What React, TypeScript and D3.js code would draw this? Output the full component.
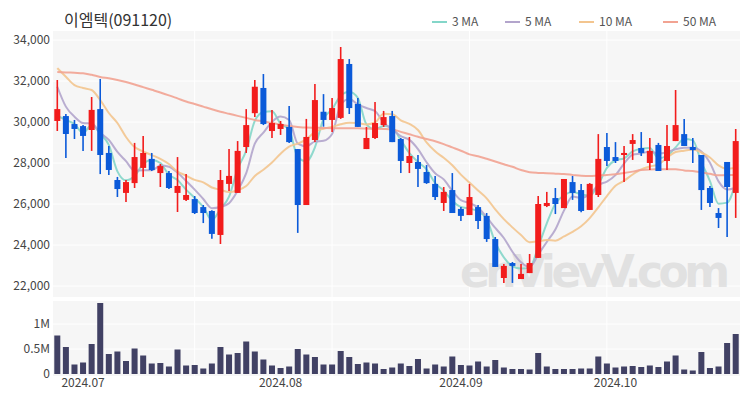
import React from 'react';
import * as d3 from 'd3';

const title = '이엠텍(091120)';

const opens = [30050, 30290, 29900, 29800, 29610, 30630, 28490, 27170, 26540, 27020, 27760, 28200, 27510, 27510, 26540, 26200, 26240, 25850, 25660, 24490, 26980, 26540, 28780, 30430, 31660, 29560, 29660, 29760, 28680, 25950, 29120, 30500, 30100, 30200, 32830, 30880, 28680, 29220, 29850, 30290, 29170, 28000, 28050, 27560, 26980, 26050, 26680, 25760, 25460, 25850, 25420, 24290, 22390, 23120, 22340, 22630, 23370, 25900, 26290, 25800, 27070, 26680, 25710, 26440, 28780, 28290, 28390, 28930, 28730, 28000, 28880, 28100, 29070, 29410, 28780, 28390, 26780, 25560, 28050, 26540];
const highs = [32050, 30390, 30100, 29850, 31220, 32100, 28830, 27320, 27170, 28980, 29320, 28490, 27950, 27610, 28290, 27460, 26390, 25950, 25700, 27660, 28680, 29070, 30630, 32050, 32340, 30590, 30050, 30780, 28680, 30150, 31850, 31360, 31170, 33660, 33070, 31170, 29760, 30980, 30540, 30540, 29220, 29270, 28390, 27900, 27370, 26830, 27510, 25850, 26980, 25950, 25560, 24390, 23070, 23170, 23070, 23560, 26390, 26590, 26780, 27220, 27370, 26980, 27020, 29410, 29460, 29020, 28830, 29410, 29510, 29220, 28980, 29850, 31560, 30150, 29220, 28390, 26880, 25800, 28050, 29660];
const lows = [29560, 28240, 29170, 28590, 28590, 27460, 27410, 26340, 26100, 26780, 27320, 27610, 26830, 26730, 25610, 26150, 25510, 25070, 24300, 24050, 26630, 26540, 28490, 30240, 29850, 29220, 29370, 28980, 24590, 25950, 29020, 29770, 29510, 30150, 30390, 29760, 28680, 29170, 29760, 29020, 27510, 27510, 26830, 26980, 26200, 25660, 25560, 25170, 25460, 24780, 24150, 22930, 22150, 22150, 22340, 22630, 23370, 25850, 25510, 25800, 26200, 25600, 25710, 26340, 27850, 28000, 27070, 28150, 28340, 27660, 27610, 27660, 29070, 28830, 28000, 25710, 25850, 24830, 24390, 25320];
const closes = [30630, 29415, 29660, 29320, 30590, 28390, 27660, 26730, 27070, 28290, 28490, 27660, 27850, 26780, 26880, 26440, 25560, 25560, 24540, 27170, 27370, 28590, 29850, 31720, 29900, 29950, 29900, 29020, 25950, 29270, 31070, 30100, 30680, 33070, 30680, 29760, 29220, 29950, 30240, 29020, 28100, 28340, 27710, 27020, 26340, 26590, 25560, 25420, 26340, 25170, 24290, 22930, 22980, 22980, 22590, 23120, 26000, 26050, 26000, 27220, 26540, 25660, 26980, 28200, 28100, 28100, 28490, 29120, 28490, 28590, 27610, 28830, 29850, 28830, 28630, 26680, 26050, 25320, 26830, 29070];
// volume in millions of shares
const volumes = [0.77, 0.54, 0.19, 0.23, 0.6, 1.42, 0.4, 0.45, 0.26, 0.51, 0.37, 0.21, 0.22, 0.15, 0.49, 0.17, 0.18, 0.11, 0.21, 0.54, 0.39, 0.42, 0.65, 0.45, 0.29, 0.17, 0.12, 0.15, 0.5, 0.39, 0.34, 0.19, 0.19, 0.46, 0.34, 0.2, 0.23, 0.21, 0.1, 0.13, 0.21, 0.16, 0.3, 0.11, 0.19, 0.15, 0.35, 0.18, 0.17, 0.25, 0.15, 0.28, 0.13, 0.1, 0.1, 0.09, 0.42, 0.15, 0.1, 0.1, 0.1, 0.11, 0.11, 0.35, 0.21, 0.13, 0.15, 0.16, 0.14, 0.17, 0.14, 0.25, 0.37, 0.09, 0.07, 0.44, 0.12, 0.15, 0.62, 0.8];

// moving-average values before enough candles are on screen
const ma3Head = [30300, 30100];
const ma5Head = [31720, 30750, 30260, 29950];
const ma10Head = [32630, 32210, 31800, 31660, 31560, 31070, 30440, 29950, 29270];
const ma50Head = [32440, 32420, 32400, 32380, 32300, 32200, 32130, 32050, 31950, 31830, 31700, 31570, 31440, 31300, 31150, 31000, 30880, 30750, 30620, 30500, 30400, 30300, 30200, 30100, 30030, 29950, 29880, 29800, 29760, 29730, 29720, 29710, 29700, 29700, 29690, 29690, 29680, 29670, 29660, 29640, 29520, 29400, 29280, 29170, 29060, 28920, 28760, 28600, 28420];

const monthTicks = [3, 26, 47, 65];
const monthLabels = ['2024.07', '2024.08', '2024.09', '2024.10'];
const gridIdx = [16, 32, 48, 64];
const priceTicks = [22000, 24000, 26000, 28000, 30000, 32000, 34000];
const volTicks = [0, 0.5, 1];
const maNames = ['3 MA', '5 MA', '10 MA', '50 MA'];
const maColors = ['#84d6c9', '#b3a5cc', '#f3c58f', '#f2a392'];

function movingAvg(n: number, head: number[]) {
  return closes.map((_, i) => (i < n - 1 ? head[i] : d3.mean(closes.slice(i - n + 1, i + 1)) as number));
}

const FONT = "'Noto Sans CJK KR', 'Noto Sans', sans-serif";

export default function App() {
  const W = 750;
  const H = 400;
  const left = 53;
  const right = 740;
  const priceTop = 31;
  const priceBottom = 297;
  const volTop = 301;
  const volBottom = 376;

  const idx = closes.map((_, i) => i);
  const x = d3.scaleBand<number>().domain(idx).range([left, right]).paddingInner(0.3).paddingOuter(0.15);
  const cx = (i: number) => (x(i) as number) + x.bandwidth() / 2;
  const y = d3.scaleLinear().domain([22000, 34000]).range([286, 40]);
  const yv = d3.scaleLinear().domain([0, 1.46]).range([374, 301]);
  const fmt = d3.format(',');

  const mas = [movingAvg(3, ma3Head), movingAvg(5, ma5Head), movingAvg(10, ma10Head), movingAvg(50, ma50Head)];
  const line = d3.line<number>().x((_, i) => cx(i)).y(d => y(d)).curve(d3.curveMonotoneX);

  const legendX = [432, 505, 579, 663];

  return (
    <div style={{ position: 'fixed', left: 0, top: 0 }}>
      <svg width={W} height={H} style={{ display: 'block', background: '#fff' }} fontFamily={FONT}>
        <text x={64} y={26} fontSize={16} fill="#333">{title}</text>

        {maNames.map((n, k) => (
          <g key={n}>
            <line x1={legendX[k]} x2={legendX[k] + 15} y1={22} y2={22} stroke={maColors[k]} strokeWidth={2} />
            <text x={legendX[k] + 20} y={26} fontSize={12} fill="#555">{n}</text>
          </g>
        ))}

        {/* panels */}
        <rect x={left} y={priceTop} width={right - left} height={priceBottom - priceTop} fill="#f6f6f6" />
        <rect x={left} y={volTop} width={right - left} height={volBottom - volTop} fill="#f6f6f6" />

        {priceTicks.map(t => (
          <g key={t}>
            <line x1={left} x2={right} y1={y(t)} y2={y(t)} stroke="#fff" strokeWidth={1} />
            <text x={50} y={y(t) + 4} fontSize={12} fill="#444" textAnchor="end">{fmt(t)}</text>
          </g>
        ))}
        {volTicks.map(t => (
          <g key={t}>
            {t > 0 && <line x1={left} x2={right} y1={yv(t)} y2={yv(t)} stroke="#fff" strokeWidth={1} />}
            <text x={50} y={yv(t) + 4} fontSize={12} fill="#444" textAnchor="end">{t === 0 ? '0' : `${t}M`}</text>
          </g>
        ))}
        {gridIdx.map(i => (
          <g key={i}>
            <line x1={cx(i)} x2={cx(i)} y1={priceTop} y2={priceBottom} stroke="#fff" strokeWidth={1} />
            <line x1={cx(i)} x2={cx(i)} y1={volTop} y2={volBottom} stroke="#fff" strokeWidth={1} />
          </g>
        ))}

        <text x={460} y={287} fontSize={44} fontWeight="bold" fill="#dadada" opacity={0.75} textLength={270} fontFamily="'DejaVu Sans', sans-serif">enVievV.com</text>

        {mas.map((m, k) => (
          <path key={k} d={line(m) as string} fill="none" stroke={maColors[k]} strokeWidth={2} opacity={0.9} />
        ))}

        {idx.map(i => {
          const up = closes[i] >= opens[i];
          const c = up ? '#f21c1c' : '#0b5ad9';
          const top = y(Math.max(opens[i], closes[i]));
          const bot = y(Math.min(opens[i], closes[i]));
          return (
            <g key={i}>
              <line x1={cx(i)} x2={cx(i)} y1={y(highs[i])} y2={y(lows[i])} stroke={c} strokeWidth={1.6} />
              <rect x={x(i)} y={top} width={x.bandwidth()} height={Math.max(1, bot - top)} fill={c} />
            </g>
          );
        })}

        {idx.map(i => (
          <rect key={i} x={x(i)} y={yv(volumes[i])} width={x.bandwidth()} height={yv(0) - yv(volumes[i])} fill="#414164" />
        ))}

        {monthTicks.map((t, k) => (
          <text key={t} x={cx(t)} y={387} fontSize={12} fill="#444" textAnchor="middle">{monthLabels[k]}</text>
        ))}
      </svg>
    </div>
  );
}
